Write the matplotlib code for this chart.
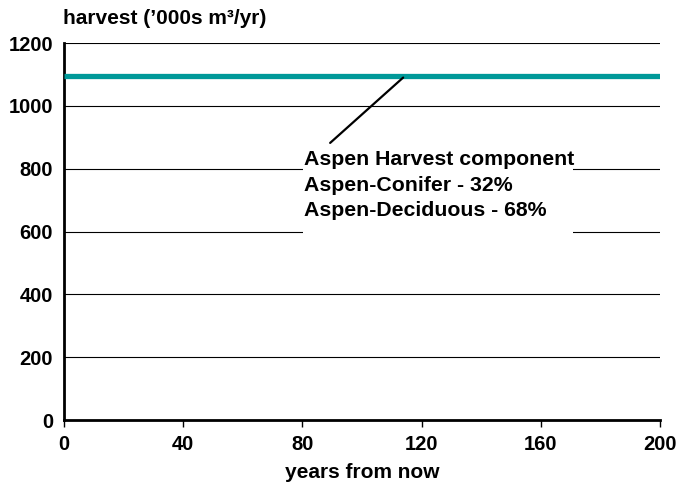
import matplotlib.pyplot as plt
from matplotlib.patches import Rectangle

years = [0, 200]
harvest = [1095, 1095]
x_ticks = [0, 40, 80, 120, 160, 200]
y_ticks = [0, 200, 400, 600, 800, 1000, 1200]
note = "Aspen Harvest component\nAspen-Conifer - 32%\nAspen-Deciduous - 68%"

plt.rcParams['font.family'] = ['Liberation Sans', 'DejaVu Sans']
plt.rcParams['font.weight'] = 'bold'

fig = plt.figure(figsize=(6.76, 4.91), dpi=100)
ax = fig.add_axes([0.0947, 0.1446, 0.8817, 0.7678])

ax.plot(years, harvest, color='#009999', linewidth=3.8, solid_capstyle='butt', zorder=3)

ax.set_xlim(0, 200)
ax.set_ylim(0, 1200)
ax.set_xticks(x_ticks)
ax.set_yticks(y_ticks)
ax.tick_params(axis='x', direction='out', length=5, width=1, labelsize=14.5, pad=6)
ax.tick_params(axis='y', length=0, labelsize=14.5, pad=8)
for lab in ax.get_xticklabels() + ax.get_yticklabels():
    lab.set_fontweight('bold')

ax.yaxis.grid(True, color='black', linewidth=0.8)
ax.set_axisbelow(True)
for s in ['top', 'right']:
    ax.spines[s].set_visible(False)
ax.spines['left'].set_linewidth(2)
ax.spines['bottom'].set_linewidth(2)

# white panel behind the note, hides the gridlines
ax.add_patch(Rectangle((80.2, 570), 90.6, 310, facecolor='white', edgecolor='none', zorder=2))
ax.annotate('', xy=(113.8, 1090), xytext=(89.3, 882),
            arrowprops=dict(arrowstyle='-', color='black', lw=1.6, shrinkA=0, shrinkB=0),
            zorder=4)
ax.text(80.5, 860, note, fontsize=15.3, fontweight='bold', ha='left', va='top',
        linespacing=1.45, zorder=5)

ax.set_xlabel('years from now', fontsize=15, fontweight='bold', labelpad=6)
fig.text(0.093, 0.963, "harvest (\u2019000s m\u00b3/yr)", fontsize=15, fontweight='bold',
         ha='left', va='center')

fig.savefig('out.png', dpi=100)
